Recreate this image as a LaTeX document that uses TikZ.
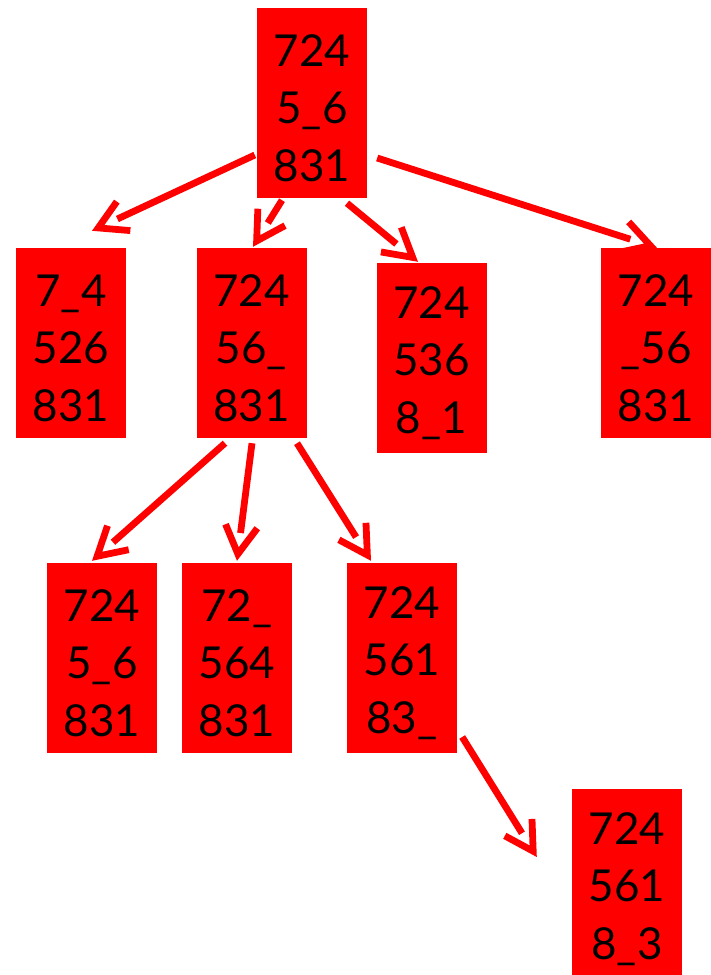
\documentclass[tikz,border=0pt]{standalone}
\usepackage{fontspec}
\setmainfont{Lato}
\usetikzlibrary{arrows.meta,decorations.markings}
\newcommand\threerow[3]{\rule{0pt}{42pt}#1\\#2\\#3}
\tikzset{
  box/.style={fill=red, draw=none, minimum width=110pt, minimum height=190pt, inner sep=0pt,
    align=center, font=\fontsize{44}{57.5}\selectfont, text=black},
  edge/.style={draw=red, line width=6.8pt, shorten >=28pt,
    postaction={decorate},
    decoration={markings, mark=at position 1 with
      {\arrow[red, line width=6.8pt]{Straight Barb[length=28pt, width=32pt]}}}},
}
\begin{document}
\begin{tikzpicture}[x=1pt,y=-1pt]
\useasboundingbox (0,0) rectangle (710,975);
\node[box] (root) at (312,103) {\threerow{724}{5\_6}{831}};
\node[box] (A) at (71,343) {\threerow{7\_4}{526}{831}};
\node[box] (B) at (251.5,343) {\threerow{724}{56\_}{831}};
\node[box] (C) at (431.5,358) {\threerow{724}{536}{8\_1}};
\node[box] (D) at (656,343) {\threerow{724}{\_56}{831}};
\node[box] (E) at (102,658) {\threerow{724}{5\_6}{831}};
\node[box] (F) at (237,658) {\threerow{72\_}{564}{831}};
\node[box] (G) at (402,658) {\threerow{724}{561}{83\_}};
\node[box] (H) at (627,884) {\threerow{724}{561}{8\_3}};
\draw[edge] ([shift={(-2,52)}]root.west) -- ([shift={(21,-17)}]A.north);
\draw[edge] ([shift={(-30,2)}]root.south) -- ([shift={(1.5,-1)}]B.north);
\draw[edge] ([shift={(35,5)}]root.south) -- ([shift={(-13.5,-1)}]C.north);
\draw[edge] ([shift={(10,55)}]root.east) -- ([shift={(1,0)}]D.north);
\draw[edge] ([shift={(-26.5,5)}]B.south) -- ([shift={(-10,-2)}]E.north);
\draw[edge] ([shift={(0.5,5)}]B.south) -- ([shift={(0,-2)}]F.north);
\draw[edge] ([shift={(45.5,5)}]B.south) -- ([shift={(-31,-2)}]G.north);
\draw[edge] ([shift={(5,79)}]G.east) -- ([shift={(-35,-27)}]H.west);
\end{tikzpicture}
\end{document}
